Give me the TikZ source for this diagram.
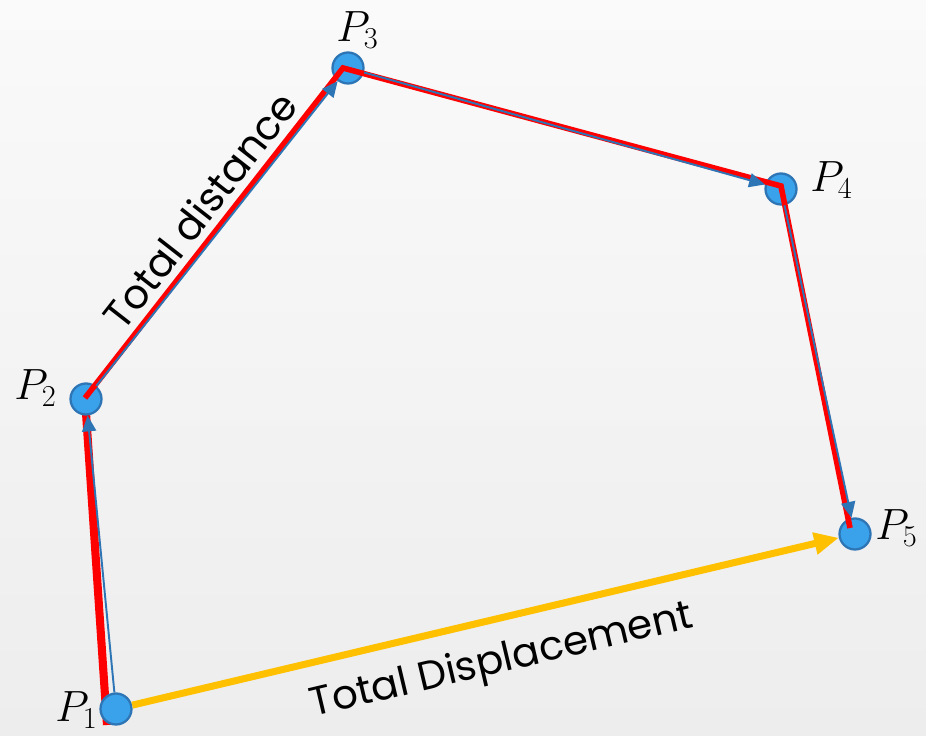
\documentclass[tikz,border=0pt]{standalone}
\usepackage{fontspec}
\setsansfont{Poppins}
\usetikzlibrary{arrows.meta}
\definecolor{dotfill}{HTML}{3AA2EA}
\definecolor{dotedge}{HTML}{2E75B6}
\definecolor{pathred}{HTML}{FF0000}
\definecolor{dispgold}{HTML}{FFC000}
\definecolor{bgtop}{HTML}{FAFAFA}
\definecolor{bgbot}{HTML}{EDEDED}

\begin{document}
\begin{tikzpicture}[
        pt/.style={
          circle, draw=dotedge, line width=1.3pt,
          fill=dotfill, minimum size=0.62cm, inner sep=0pt,
        },
        lbl/.style={font=\fontsize{25}{30}\selectfont, anchor=base west, inner sep=0pt},
        txt/.style={font=\sffamily\fontsize{23}{28}\selectfont, inner sep=0pt},
        dist/.style={draw=pathred, line width=3.2pt, line join=miter},
        leg/.style={-{Triangle[length=9pt,width=8pt]}, draw=dotedge, line width=1.1pt},
        disp/.style={-{Triangle[length=14pt,width=12pt]}, draw=dispgold, line width=4pt},
      ]
      \useasboundingbox (0,0) rectangle (18.52,14.72);
      \fill[top color=bgtop, bottom color=bgbot] (0,0) rectangle (18.52,14.72);

      \coordinate (r1) at (2.14, 0.22);
      \coordinate (r2) at (1.70, 6.76);
      \coordinate (r3) at (6.86,13.36);
      \coordinate (r4) at (15.62,11.00);
      \coordinate (r5) at (17.00, 4.16);

      % first leg runs under the dots
      \draw[dist, line width=4.6pt] (r1) -- (r2);

      \node[pt] (P1) at (2.32, 0.54) {};
      \node[pt] (P2) at (1.72, 6.74) {};
      \node[pt] (P3) at (6.96,13.36) {};
      \node[pt] (P4) at (15.62,10.94) {};
      \node[pt] (P5) at (17.10, 4.04) {};

      \draw[disp] (P1) -- (P5);
      \draw[dist] (r2) -- (r3) -- (r4) -- (r5);

      \draw[leg] (P1) -- (P2);
      \draw[leg] (P2) -- (P3);
      \draw[leg] (P3) -- (P4);
      \draw[leg] (P4) -- (P5);

      \node[lbl] (l1) at (1.10, 0.28) {$P_1$};
      \node[lbl] (l2) at (0.28, 6.72) {$P_2$};
      \node[lbl] (l3) at (6.72,13.88) {$P_3$};
      \node[lbl] (l4) at (16.20,10.88) {$P_4$};
      \node[lbl] (l5) at (17.50, 3.92) {$P_5$};

      \node[txt, rotate=52] (tdist) at (4.00,10.52) {Total distance};
      \node[txt, rotate=13.3] (tdisp) at (10.04,1.48) {Total Displacement};
    \end{tikzpicture}
\end{document}
